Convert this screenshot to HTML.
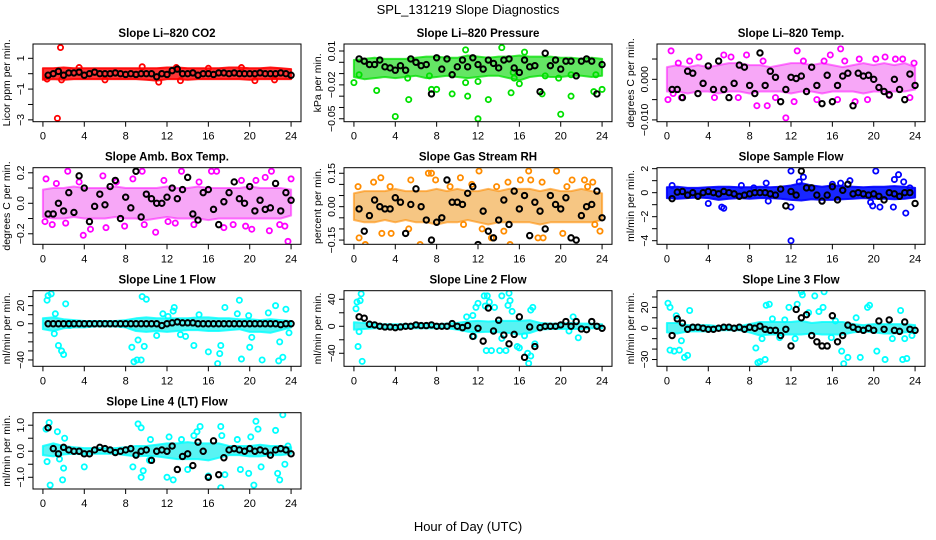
<!DOCTYPE html>
<html><head><meta charset="utf-8"><style>
html,body{margin:0;padding:0;background:#fff}
svg{display:block;font-family:"Liberation Sans",Arial,sans-serif}
</style></head><body>
<svg id="chart" width="936" height="540" viewBox="0 0 936 540" xmlns="http://www.w3.org/2000/svg">
<rect x="0" y="0" width="936" height="540" fill="#fff"/>
<text x="468" y="14" font-size="13" text-anchor="middle">SPL_131219  Slope Diagnostics</text>
<text x="468" y="531" font-size="13" text-anchor="middle">Hour of Day (UTC)</text>
</svg>
<script>
// ---- shared categories ----
const bandHours=[0,1,2,3,4,5,6,7,8,9,10,11,12,13,14,15,16,17,18,19,20,21,22,23,24];
const blackHours=[0.5,1,1.5,2,2.5,3,3.5,4,4.5,5,5.5,6,6.5,7,7.5,8,8.5,9,9.5,10,10.5,11,11.5,12,12.5,13,13.5,14,14.5,15,15.5,16,16.5,17,17.5,18,18.5,19,19.5,20,20.5,21,21.5,22,22.5,23,23.5,24];
const xTicks=[0,4,8,12,16,20,24];

// ---- CO2 ----
const co2Lo=[-0.4,-0.35,-0.4,-0.35,-0.35,-0.35,-0.35,-0.35,-0.35,-0.35,-0.4,-0.45,-0.35,-0.35,-0.4,-0.35,-0.35,-0.35,-0.35,-0.35,-0.4,-0.35,-0.35,-0.35,-0.35];
const co2Hi=[0.35,0.35,0.4,0.35,0.35,0.35,0.35,0.35,0.35,0.35,0.35,0.35,0.4,0.4,0.35,0.35,0.35,0.35,0.4,0.4,0.35,0.35,0.4,0.35,0.3];
const co2Pts=[[1.7,1.7],[1.4,-2.9],[11.2,-0.55],[1.8,-0.4],[0.4,-0.35],[12.9,0.4],[22.4,-0.4],[9.6,0.45],[13.3,-0.45],[19.2,0.4],[6,-0.4],[3.5,0.4],[16,0.35],[20.5,-0.45]];
const co2Black=[-0.1,0,0.15,-0.1,0.05,0.05,0.1,-0.1,0,0.1,0,0,0,0.05,0,-0.05,0,-0.05,0,0,0,-0.2,0,-0.05,0.2,0.3,0,0,0.05,-0.1,0,0,-0.05,0.05,0.05,0,0.05,0,0,0,0,0.05,0,0,0,0.05,0,-0.1];
// ---- Pressure ----
const prLo=[-0.013,-0.015,-0.014,-0.013,-0.014,-0.013,-0.012,-0.014,-0.013,-0.012,-0.013,-0.014,-0.013,-0.012,-0.012,-0.014,-0.016,-0.013,-0.012,-0.013,-0.013,-0.012,-0.012,-0.013,-0.012];
const prHi=[0.002,0.003,0.004,0.003,0.003,0.003,0.004,0.005,0.005,0.004,0.004,0.006,0.005,0.004,0.005,0.005,0.006,0.005,0.005,0.005,0.004,0.004,0.003,0.004,0.003];
const prPts=[[0,-0.018],[0.5,-0.011],[2.2,-0.025],[4,-0.048],[5.3,-0.033],[5.2,-0.014],[7.5,-0.024],[8,-0.024],[9.5,-0.028],[10.8,0.011],[10.8,-0.018],[11,-0.03],[12,-0.05],[12,-0.017],[13,-0.033],[14.3,0.013],[15.2,-0.027],[15.5,-0.014],[16,-0.019],[16.5,0.009],[18.2,-0.028],[18.5,-0.012],[19.8,-0.014],[20,-0.046],[21,-0.03],[21,-0.011],[23.2,-0.026],[23.4,-0.011],[24,-0.024],[7.3,-0.012],[15.4,-0.009]];
const prBlack=[0.003,0.001,-0.002,-0.002,0.002,-0.004,-0.005,-0.007,-0.003,-0.007,0.003,0.000,-0.003,-0.002,-0.028,0.004,-0.006,0.003,-0.011,-0.004,0.002,-0.004,0.004,-0.002,-0.006,0.002,-0.001,-0.005,0.002,0.003,-0.005,-0.009,0.002,-0.004,-0.003,-0.026,0.008,-0.003,0.002,-0.006,0.001,0.001,-0.012,0.001,0.003,0.001,-0.028,-0.002];
// ---- Li-820 Temp ----
const tLo=[-0.003,-0.003,-0.0035,-0.003,-0.003,-0.0035,-0.003,-0.003,-0.0035,-0.003,-0.003,-0.003,-0.0035,-0.003,-0.003,-0.0035,-0.003,-0.003,-0.003,-0.0035,-0.003,-0.003,-0.003,-0.003,-0.0025];
const tHi=[0.003,0.0035,0.003,0.0035,0.003,0.0035,0.004,0.004,0.0035,0.0035,0.003,0.0035,0.004,0.004,0.0035,0.004,0.0035,0.003,0.0035,0.004,0.0035,0.004,0.0035,0.004,0.003];
const tPts=[[0.4,0.007],[0.1,-0.005],[0.6,-0.0035],[1.4,-0.0045],[2.2,0.0045],[3.1,0.0055],[4.6,-0.0045],[5.5,0.006],[6.2,0.0055],[7.7,0.006],[8.7,-0.0065],[9.7,-0.0065],[9.3,0.0045],[11.5,-0.0095],[12.6,0.007],[12.3,-0.0055],[13.2,0.0045],[14.5,-0.005],[15.2,0.0045],[15.8,0.006],[16.8,0.0075],[16.5,-0.005],[17.2,0.0045],[18.2,-0.0055],[18.6,0.005],[19.4,-0.005],[20.2,0.005],[21.1,0.0055],[21.5,-0.004],[22.1,0.005],[22.8,0.005],[23.5,-0.0045],[23.9,0.004],[1.1,0.004],[10.5,-0.0045],[6.9,-0.0045]];
const tBlack=[-0.0025,-0.0025,-0.0045,0.002,0.0015,-0.0035,-0.001,0.0033,-0.0025,0.0045,-0.0025,-0.0045,-0.001,0.0035,0.003,-0.0015,-0.0035,0.0065,-0.0015,0.002,0.0005,-0.0055,-0.0025,0.0005,0.0002,0.0008,-0.003,0.003,-0.0015,-0.006,0.001,-0.0055,-0.0015,0.0008,0.0015,-0.0065,0.0015,0.0008,0.001,0,-0.002,-0.003,-0.0038,0,-0.0025,-0.005,0.0013,-0.0015];
// ---- Amb Box Temp ----
const aLo=[-0.09,-0.1,-0.1,-0.09,-0.1,-0.1,-0.1,-0.09,-0.1,-0.1,-0.11,-0.1,-0.09,-0.1,-0.1,-0.1,-0.11,-0.1,-0.1,-0.1,-0.1,-0.1,-0.1,-0.1,-0.08];
const aHi=[0.09,0.1,0.1,0.11,0.1,0.1,0.1,0.11,0.1,0.1,0.1,0.1,0.11,0.1,0.1,0.11,0.1,0.1,0.1,0.1,0.11,0.1,0.1,0.1,0.09];
const aPts=[[0.3,0.16],[0.2,-0.12],[0.9,-0.14],[2.4,0.21],[2.2,-0.13],[3.5,0.14],[3.9,-0.21],[4.6,-0.17],[5.8,0.18],[6.1,-0.16],[7.9,-0.15],[8.7,0.16],[9.6,0.21],[9.8,-0.14],[10.9,-0.19],[11.7,0.15],[12.8,-0.13],[13.4,0.21],[14.6,-0.14],[15.1,0.14],[16.3,0.21],[16.8,0.21],[17.5,-0.16],[18.4,-0.14],[19.2,0.15],[19.6,-0.15],[20.2,-0.17],[20.6,0.15],[21.5,0.17],[22.1,0.21],[21.9,-0.18],[22.9,-0.14],[23.4,-0.15],[23.7,-0.25],[24,0.16],[1.3,0.13],[7.1,0.14],[12.1,-0.12]];
const aBlack=[-0.07,-0.07,0.0,-0.05,0.07,-0.06,0.18,0.1,-0.12,-0.02,0.06,-0.01,0.11,0.15,-0.1,0.04,-0.03,0.21,-0.09,0.06,0.03,0.0,0.0,0.04,0.1,0.03,0.09,0.17,-0.07,-0.11,0.07,0.09,-0.04,-0.14,0.01,0.07,0.14,0.03,0.0,0.11,-0.05,0.02,-0.04,-0.03,0.13,-0.05,0.07,0.02];
// ---- Gas Stream RH ----
const rhLo=[-0.06,-0.07,-0.07,-0.06,-0.07,-0.06,-0.07,-0.07,-0.08,-0.07,-0.07,-0.06,-0.07,-0.08,-0.07,-0.07,-0.07,-0.07,-0.08,-0.07,-0.07,-0.07,-0.07,-0.07,-0.06];
const rhHi=[0.06,0.07,0.07,0.07,0.08,0.07,0.07,0.07,0.08,0.07,0.08,0.07,0.07,0.08,0.07,0.08,0.08,0.08,0.07,0.08,0.07,0.07,0.08,0.07,0.06];
const rhPts=[[0.4,0.09],[0.5,-0.14],[1.1,-0.17],[1.9,0.11],[2.6,0.13],[2.7,-0.12],[3.5,0.09],[3.6,-0.12],[5.5,0.12],[5.3,-0.1],[7.2,0.15],[7.5,0.15],[6.4,-0.17],[7.9,0.12],[9.3,0.09],[10.3,0.13],[10.6,-0.08],[11.4,0.1],[12.1,0.16],[12.4,-0.1],[13.3,-0.14],[13.8,0.09],[14.5,-0.11],[14.9,0.11],[15.1,-0.17],[16.1,0.12],[16.9,0.16],[17.1,0.12],[17.8,-0.14],[18.2,0.11],[18.3,-0.14],[19.6,0.16],[20.2,-0.12],[20.6,0.09],[21.1,0.12],[22.3,0.12],[22.6,0.09],[23.1,0.11],[23.3,-0.08],[23.8,-0.11]];
const rhBlack=[-0.01,-0.11,-0.04,0.03,0.0,-0.01,-0.01,0.04,0.02,-0.12,0.01,0.08,0.0,-0.06,-0.15,-0.07,-0.05,0.12,0.02,0.02,0.01,0.06,0.09,-0.17,-0.02,-0.11,-0.14,-0.06,0.03,-0.08,0.07,-0.01,0.05,-0.13,0.02,-0.02,-0.1,0.05,0.01,-0.01,0.04,-0.14,-0.15,-0.04,0.0,0.01,0.07,-0.05];
// ---- Sample Flow ----
const sfLo=[-0.45,-0.5,-0.45,-0.4,-0.45,-0.6,-0.5,-0.45,-0.5,-0.45,-0.45,-0.5,-0.6,-0.65,-0.55,-0.6,-0.6,-0.55,-0.5,-0.45,-0.5,-0.5,-0.55,-0.5,-0.4];
const sfHi=[0.45,0.5,0.4,0.4,0.45,0.5,0.5,0.45,0.45,0.5,0.45,0.5,0.6,0.8,0.6,0.5,0.6,0.55,0.5,0.45,0.5,0.5,0.55,0.5,0.4];
const sfPts=[[0.5,0.6],[4,-0.9],[5.3,-1.2],[5.5,-1.3],[7.2,0.6],[9.6,0.8],[9.8,-0.7],[12,1.8],[12,-4],[12,-1.2],[12.8,0.9],[13.2,1.3],[15,-0.7],[16,0.7],[17.7,1.0],[19.7,-0.8],[19.9,-1.1],[20.2,1.8],[20.6,-1.2],[21.9,-1.2],[22,1.1],[22.4,1.5],[22.9,0.9],[23.1,-1.7],[23.5,0.4],[8.4,0.4],[16.8,0.8]];
const sfBlack=[-0.5,0.05,0.1,-0.2,0.0,-0.3,0.0,0.1,0.0,-0.1,0.1,0.0,-0.1,-0.3,-0.2,-0.1,0.0,0.0,0.0,-0.1,-0.2,0.3,-1.1,0.1,-0.2,1.8,0.4,0.4,-0.2,-0.7,-0.2,0.5,-0.6,0.2,0.7,-0.1,0.0,-0.1,-0.2,-0.1,-0.3,-0.6,0.0,-0.1,-0.3,0.0,0.0,-0.9];
// ---- Line 1 Flow ----
const l1Lo=[-6,-8,-5,-4,-4,-3,-3,-3,-4,-8,-9,-8,-9,-8,-7,-7,-8,-8,-7,-6,-9,-9,-10,-7,-4];
const l1Hi=[6,7,5,4,3,3,3,3,4,6,7,6,6,6,6,7,7,6,6,5,5,4,5,4,3];
const l1Pts=[[0.4,26],[0.5,31],[0.8,33],[1.1,-11],[1.2,11],[1.5,-24],[1.8,-30],[2.0,-34],[2.2,22],[2.6,-2],[8.6,-26],[8.8,-42],[9.1,-40],[9.2,-18],[9.5,-40],[9.6,30],[9.8,-25],[10,27],[11,-13],[11.6,11],[12.6,14],[12.7,18],[13.3,-12],[13.8,-14],[14.6,-24],[16,-31],[16.9,-44],[17.1,-33],[17.2,-24],[17.6,18],[18.8,11],[19,26],[19.2,-39],[19.9,9],[20,-26],[20.2,-15],[21.2,-40],[21.8,12],[22.5,20],[22.8,-41],[22.9,-20],[23.2,-37],[23.5,16],[23.8,-10],[12.1,8],[15.1,10]];
const l1Black=[0,0,0,0,0,0,0,0,0,0,0,0,0,0,0,0,0,0,0,0,0,0,-2,0,1,2,1,1,1,0,0,0,0,0,0,0,0,0,0,0,0,0,0,0,0,-1,0,0];
// ---- Line 2 Flow ----
const l2Lo=[-5,-4,-3,-3,-3,-3,-3,-3,-3,-3,-5,-8,-9,-8,-9,-10,-12,-10,-5,-4,-4,-4,-4,-3,-3];
const l2Hi=[6,5,3,3,3,3,3,3,3,4,5,7,8,7,8,8,8,9,5,4,4,5,4,4,3];
const l2Pts=[[0.2,26],[0.3,36],[0.6,38],[0.7,48],[0.4,-30],[0.8,-52],[0.5,-8],[10.9,14],[11.5,16],[11.8,28],[12.0,34],[12.6,45],[12.7,30],[12.9,45],[13.1,36],[13.6,28],[13.3,-36],[12.8,-36],[14.1,-36],[14.3,45],[14.7,-36],[14.9,31],[15.0,49],[15.1,38],[15.3,22],[15.8,-30],[16.0,-32],[16.5,-14],[16.8,-40],[16.9,-55],[17.1,-44],[17.3,28],[17.1,24],[17.5,-26],[21.2,14],[21.7,-17],[20.8,-7],[14.3,-18],[11.6,-15]];
const l2Black=[14,12,3,2,0,-1,-1,-2,-1,0,0,2,1,1,2,0,0,0,4,0,-2,1,-15,-3,-22,27,-7,9,-13,-26,-12,14,-46,-1,-30,-2,0,0,0,2,7,0,7,-4,-5,7,0,-3];
// ---- Line 3 Flow ----
const l3Lo=[-4,-5,-3,-3,-3,-2,-2,-2,-4,-7,-6,-6,-6,-6,-5,-6,-6,-6,-4,-3,-4,-5,-5,-4,-3];
const l3Hi=[5,5,3,3,3,2,2,2,4,6,6,6,6,7,5,6,6,6,4,3,4,4,4,4,3];
const l3Pts=[[0.1,24],[0.3,20],[0.3,-21],[0.7,-22],[0.9,12],[1.2,-21],[1.4,-12],[1.7,-28],[2.0,-26],[2.2,17],[8.6,-19],[8.8,-33],[9.0,-32],[9.2,-10],[9.5,-30],[9.6,22],[9.9,23],[10.2,9],[10.9,-9],[11.4,8],[11.8,20],[12.4,-10],[12.6,23],[13.0,35],[13.1,32],[13.7,15],[14.3,31],[14.7,16],[15.1,20],[15.2,35],[15.9,-9],[16.3,7],[16.9,-22],[17.1,-34],[17.5,-28],[18.3,10],[18.7,-28],[19.4,20],[19.6,22],[20.3,-22],[21.1,-30],[21.8,-10],[22.6,17],[22.8,-30],[23.0,-10],[23.2,-29],[23.7,-7]];
const l3Black=[-7,9,5,-1,1,1,0,-1,-1,0,1,1,0,1,-1,1,0,2,-1,-2,-2,-7,-1,-17,18,10,13,-7,-13,-17,-17,12,-13,-7,3,1,-1,-2,0,-2,7,-1,8,-2,-3,6,-1,-2];
// ---- Line 4 Flow ----
const l4Lo=[-0.15,-0.2,-0.12,-0.1,-0.12,-0.1,-0.1,-0.1,-0.15,-0.2,-0.18,-0.2,-0.25,-0.3,-0.3,-0.3,-0.35,-0.25,-0.15,-0.15,-0.2,-0.2,-0.15,-0.15,-0.1];
const l4Hi=[0.2,0.3,0.2,0.15,0.12,0.12,0.12,0.12,0.15,0.2,0.2,0.25,0.3,0.3,0.35,0.3,0.3,0.3,0.2,0.2,0.2,0.25,0.2,0.2,0.15];
const l4Pts=[[0.3,0.85],[0.6,1.1],[0.4,-0.4],[0.7,-1.3],[1.4,0.75],[1.6,-0.3],[1.9,-1.1],[2.0,-0.65],[2.1,0.5],[4.0,-0.6],[8.7,-0.6],[9.2,1.05],[9.5,0.9],[9.5,-1.0],[9.7,-0.75],[10.4,0.45],[10.3,-0.35],[12.0,-1.0],[12.2,0.55],[12.6,-1.1],[13.4,0.45],[14.0,-0.7],[14.6,0.6],[14.9,0.75],[15.2,0.95],[16.0,-0.95],[17.2,0.95],[17.3,0.6],[17.2,-1.4],[17.6,-0.9],[18.8,0.45],[19.1,-0.7],[19.9,-0.85],[20.1,0.55],[20.4,-1.3],[20.6,1.15],[20.8,0.85],[21.1,-0.6],[22.5,0.8],[22.7,-0.85],[22.9,-1.1],[23.2,1.4],[23.4,-0.5],[23.7,0.2]];
const l4Black=[0.9,0.1,-0.1,0.15,0.05,0.0,0.0,-0.1,-0.1,0.05,0.15,0.1,0.05,-0.05,0.0,0.05,0.1,-0.15,0.0,0.05,-0.35,0.0,0.05,0.0,0.2,-0.7,-0.2,-0.1,-0.55,0.35,0.0,-1.0,0.4,-0.9,-0.25,0.05,0.1,0.05,0.0,0.1,0.0,0.05,0.0,-0.15,0.05,0.1,0.05,-0.1];

// ---- layout (positions/styles only) ----
const colX=[33,344,657], boxW=268;
const rowY=[[44,121.7],[167.7,244.3],[290.7,366.3],[412.7,489]];
const NS="http://www.w3.org/2000/svg";
const svg=document.getElementById("chart");
function mk(tag,attrs,parent){const e=document.createElementNS(NS,tag);for(const k in attrs)e.setAttribute(k,attrs[k]);(parent||svg).appendChild(e);return e;}

const panels=[
 {key:"co2",title:"Slope Li\u2013820 CO2",ylab:"Licor ppm per min.",col:0,row:0,ymin:-3.12,ymax:1.93,ticks:[1,0,-1,-2,-3],labels:{"1":"1","-1":"\u22121","-3":"\u22123"},color:"#ff0000",band:"#ff2020",op:0.9,lo:co2Lo,hi:co2Hi,pts:co2Pts,blk:co2Black},
 {key:"pressure",title:"Slope Li\u2013820 Pressure",ylab:"kPa per min.",col:1,row:0,ymin:-0.0526,ymax:0.0162,ticks:[0.01,0,-0.01,-0.02,-0.03,-0.04,-0.05],labels:{"0.01":"0.01","-0.02":"\u22120.02","-0.05":"\u22120.05"},color:"#00e000",band:"#30dd30",op:0.75,lo:prLo,hi:prHi,pts:prPts,blk:prBlack},
 {key:"li820-temp",title:"Slope Li\u2013820 Temp.",ylab:"degrees C per min.",col:2,row:0,ymin:-0.01044,ymax:0.0087,ticks:[0.005,0,-0.005,-0.01],labels:{"0":"0.000","-0.01":"\u22120.010"},color:"#ff00ff",band:"#f050f0",op:0.5,lo:tLo,hi:tHi,pts:tPts,blk:tBlack},
 {key:"amb-temp",title:"Slope Amb. Box Temp.",ylab:"degrees C per min.",col:0,row:1,ymin:-0.269,ymax:0.2334,ticks:[0.2,0.1,0,-0.1,-0.2],labels:{"0.2":"0.2","0":"0.0","-0.2":"\u22120.2"},color:"#ff00ff",band:"#f050f0",op:0.5,lo:aLo,hi:aHi,pts:aPts,blk:aBlack},
 {key:"gas-rh",title:"Slope Gas Stream RH",ylab:"percent per min.",col:1,row:1,ymin:-0.169,ymax:0.175,ticks:[0.15,0.1,0.05,0,-0.05,-0.1,-0.15],labels:{"0.15":"0.15","0":"0.00","-0.15":"\u22120.15"},color:"#ff8c00",band:"#f0a030",op:0.6,lo:rhLo,hi:rhHi,pts:rhPts,blk:rhBlack},
 {key:"sample-flow",title:"Slope Sample Flow",ylab:"ml/min per min.",col:2,row:1,ymin:-4.3,ymax:2.08,ticks:[2,1,0,-1,-2,-3,-4],labels:{"2":"2","0":"0","-2":"\u22122","-4":"\u22124"},color:"#0000ff",band:"#0010ff",op:0.9,lo:sfLo,hi:sfHi,pts:sfPts,blk:sfBlack},
 {key:"line1-flow",title:"Slope Line 1 Flow",ylab:"ml/min per min.",col:0,row:2,ymin:-47,ymax:36.5,ticks:[30,20,10,0,-10,-20,-30,-40],labels:{"20":"20","0":"0","-40":"\u221240"},color:"#00ffff",band:"#30f0f0",op:0.8,lo:l1Lo,hi:l1Hi,pts:l1Pts,blk:l1Black},
 {key:"line2-flow",title:"Slope Line 2 Flow",ylab:"ml/min per min.",col:1,row:2,ymin:-59.3,ymax:52.7,ticks:[40,20,0,-20,-40],labels:{"40":"40","0":"0","-40":"\u221240"},color:"#00ffff",band:"#30f0f0",op:0.8,lo:l2Lo,hi:l2Hi,pts:l2Pts,blk:l2Black},
 {key:"line3-flow",title:"Slope Line 3 Flow",ylab:"ml/min per min.",col:2,row:2,ymin:-36.5,ymax:36,ticks:[30,20,10,0,-10,-20,-30],labels:{"20":"20","0":"0","-30":"\u221230"},color:"#00ffff",band:"#30f0f0",op:0.8,lo:l3Lo,hi:l3Hi,pts:l3Pts,blk:l3Black},
 {key:"line4-flow",title:"Slope Line 4 (LT) Flow",ylab:"ml/min per min.",col:0,row:3,ymin:-1.45,ymax:1.48,ticks:[1,0.5,0,-0.5,-1],labels:{"1":"1.0","0":"0.0","-1":"\u22121.0"},color:"#00ffff",band:"#30f0f0",op:0.8,lo:l4Lo,hi:l4Hi,pts:l4Pts,blk:l4Black}
];

panels.forEach(p=>{
  const L=colX[p.col], R=L+boxW, T=rowY[p.row][0], B=rowY[p.row][1];
  const xs=h=>L+(h+0.96)/25.92*boxW;
  const ys=v=>B-(v-p.ymin)/(p.ymax-p.ymin)*(B-T);
  const g=mk("g",{});
  
  
  const clipId="clip-"+p.key;
  const cp=mk("clipPath",{id:clipId},g);
  mk("rect",{x:L,y:T,width:boxW,height:B-T},cp);
  const plot=mk("g",{"clip-path":"url(#"+clipId+")"},g);
  let d="";
  bandHours.forEach((h,i)=>{d+=(i?"L":"M")+xs(h).toFixed(1)+","+ys(p.hi[i]).toFixed(1);});
  for(let i=bandHours.length-1;i>=0;i--)d+="L"+xs(bandHours[i]).toFixed(1)+","+ys(p.lo[i]).toFixed(1);
  const band=mk("path",{d:d+"Z",fill:p.band,"fill-opacity":p.op,stroke:p.color,"stroke-opacity":p.op,"stroke-width":2,"stroke-linejoin":"round"},plot);
  
  
  p.pts.forEach(pt=>{
    const c=mk("circle",{cx:xs(pt[0]),cy:ys(pt[1]),r:2.6,fill:"none",stroke:p.color,"stroke-width":1.8},plot);
    
    
  });
  blackHours.forEach((h,i)=>{
    const c=mk("circle",{cx:xs(h),cy:ys(p.blk[i]),r:2.7,fill:"none",stroke:"#000","stroke-width":2},plot);
    
    
  });
  mk("rect",{x:L,y:T,width:boxW,height:B-T,fill:"none",stroke:"#000","stroke-width":1},g);
  xTicks.forEach(t=>{
    mk("line",{x1:xs(t),x2:xs(t),y1:B,y2:B+5,stroke:"#000"},g);
    const tx=mk("text",{x:xs(t),y:B+18,"font-size":11,"text-anchor":"middle"},g);
    tx.textContent=t;
    
    
  });
  p.ticks.forEach(t=>{
    const y=ys(t);
    mk("line",{x1:L-5,x2:L,y1:y,y2:y,stroke:"#000"},g);
    const lab=p.labels[String(t)];
    if(lab!==undefined){
      const tx=mk("text",{x:0,y:0,"font-size":10.5,"text-anchor":"middle",transform:"translate("+(L-9)+","+y+") rotate(-90)"},g);
      tx.textContent=lab;
      
      
    }
  });
  const yl=mk("text",{x:0,y:0,"font-size":10.5,"text-anchor":"middle",transform:"translate("+(L-23)+","+((T+B)/2)+") rotate(-90)"},g);
  yl.textContent=p.ylab;
  
  
  const ti=mk("text",{x:(L+R)/2,y:T-7,"font-size":11.5,"font-weight":"bold","text-anchor":"middle"},g);
  ti.textContent=p.title;
  
  
});
</script>
</body></html>
